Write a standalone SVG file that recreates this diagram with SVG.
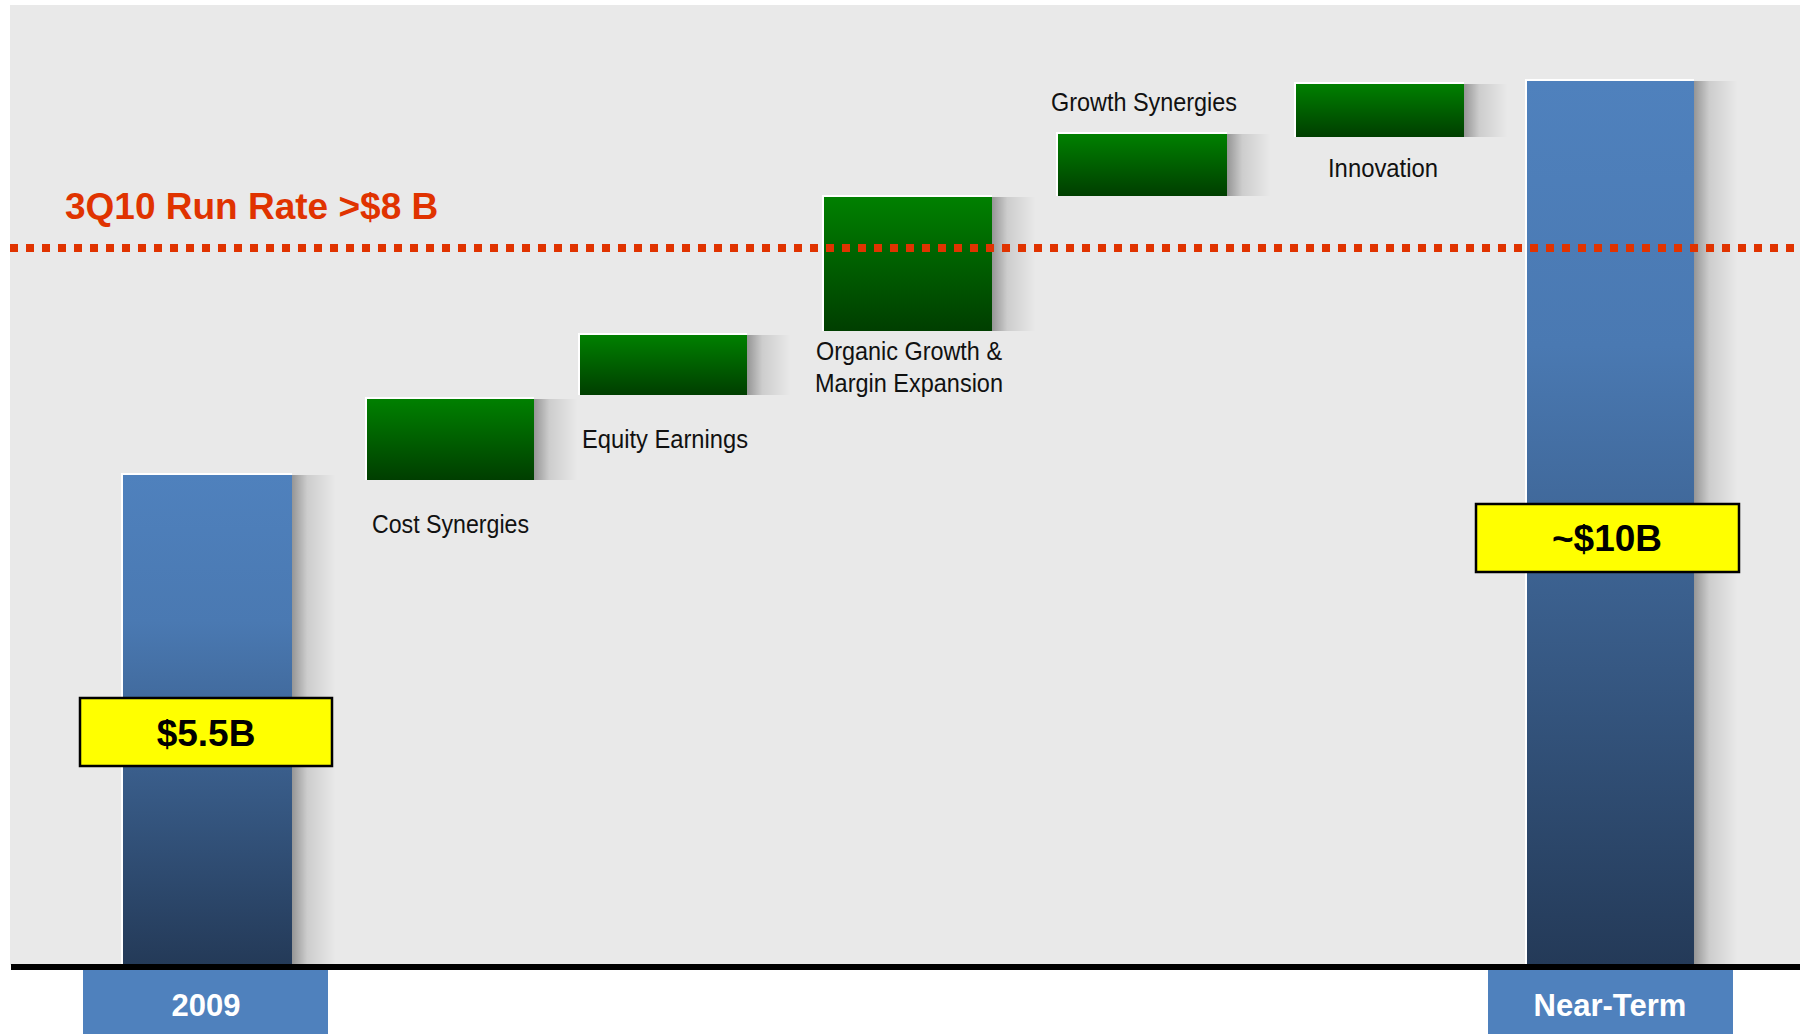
<svg xmlns="http://www.w3.org/2000/svg" width="1803" height="1034" viewBox="0 0 1803 1034">
<defs>
<linearGradient id="blueGrad" x1="0" y1="0" x2="0" y2="1">
<stop offset="0" stop-color="#4f81bd"/>
<stop offset="0.3" stop-color="#4a79b2"/>
<stop offset="1" stop-color="#243a58"/>
</linearGradient>
<linearGradient id="greenGrad" x1="0" y1="0" x2="0" y2="1">
<stop offset="0" stop-color="#008000"/>
<stop offset="1" stop-color="#003e00"/>
</linearGradient>
<linearGradient id="shadowGrad" x1="0" y1="0" x2="1" y2="0">
<stop offset="0" stop-color="#000" stop-opacity="0.36"/>
<stop offset="0.35" stop-color="#000" stop-opacity="0.12"/>
<stop offset="1" stop-color="#000" stop-opacity="0"/>
</linearGradient>
</defs>
<style>
.bg{fill:#e9e9e9}
.edge{fill:#ffffff}
.bar{fill:url(#blueGrad)}
.step{fill:url(#greenGrad)}
.shadow{fill:url(#shadowGrad)}
.lbl{font-family:"Liberation Sans",Arial,sans-serif;font-size:26px;fill:#111}
.val{font-family:"Liberation Sans",Arial,sans-serif;font-size:37px;font-weight:bold;fill:#000;text-anchor:middle}
.cat{font-family:"Liberation Sans",Arial,sans-serif;font-size:31px;font-weight:bold;fill:#fff;text-anchor:middle}
.tag{fill:#ffff00;stroke:#000;stroke-width:2.5}
.catbox{fill:#4f81bd}
.title{font-family:"Liberation Sans",Arial,sans-serif;font-size:37px;font-weight:bold;fill:#e03300}
</style>
<rect class="bg" x="10" y="5" width="1790" height="960"/>

<g id="bar-2009">
<rect class="shadow" x="292" y="475" width="44" height="489"/>
<rect class="edge" x="121" y="473" width="171" height="491"/>
<rect class="bar" x="123" y="475" width="169" height="489"/>
<rect class="tag" x="80" y="698" width="252" height="68"/>
<text class="val" x="206" y="746">$5.5B</text>
</g>

<g id="step-cost-synergies">
<rect class="shadow" x="534" y="399" width="44" height="81"/>
<rect class="edge" x="365" y="397" width="169" height="83"/>
<rect class="step" x="367" y="399" width="167" height="81"/>
<text class="lbl" x="372" y="533" textLength="157" lengthAdjust="spacingAndGlyphs">Cost Synergies</text>
</g>

<g id="step-equity-earnings">
<rect class="shadow" x="747" y="335" width="44" height="60"/>
<rect class="edge" x="578" y="333" width="169" height="62"/>
<rect class="step" x="580" y="335" width="167" height="60"/>
<text class="lbl" x="582" y="448" textLength="166" lengthAdjust="spacingAndGlyphs">Equity Earnings</text>
</g>

<g id="step-organic-growth">
<rect class="shadow" x="992" y="197" width="44" height="134"/>
<rect class="edge" x="822" y="195" width="170" height="136"/>
<rect class="step" x="824" y="197" width="168" height="134"/>
<text class="lbl" x="816" y="360" textLength="186" lengthAdjust="spacingAndGlyphs">Organic Growth &amp;</text>
<text class="lbl" x="815" y="392" textLength="188" lengthAdjust="spacingAndGlyphs">Margin Expansion</text>
</g>

<g id="step-growth-synergies">
<rect class="shadow" x="1227" y="134" width="44" height="62"/>
<rect class="edge" x="1056" y="132" width="171" height="64"/>
<rect class="step" x="1058" y="134" width="169" height="62"/>
<text class="lbl" x="1051" y="111" textLength="186" lengthAdjust="spacingAndGlyphs">Growth Synergies</text>
</g>

<g id="step-innovation">
<rect class="shadow" x="1464" y="84" width="44" height="53"/>
<rect class="edge" x="1294" y="82" width="170" height="55"/>
<rect class="step" x="1296" y="84" width="168" height="53"/>
<text class="lbl" x="1328" y="177" textLength="110" lengthAdjust="spacingAndGlyphs">Innovation</text>
</g>

<g id="bar-near-term">
<rect class="shadow" x="1694" y="81" width="44" height="883"/>
<rect class="edge" x="1525" y="79" width="169" height="885"/>
<rect class="bar" x="1527" y="81" width="167" height="883"/>
</g>

<g id="run-rate-line">
<line x1="10" y1="248" x2="1800" y2="248" stroke="#e03300" stroke-width="8" stroke-dasharray="8 8"/>
<text class="title" x="65" y="219">3Q10 Run Rate &gt;$8 B</text>
</g>

<g id="label-10b">
<rect class="tag" x="1476" y="504" width="263" height="68"/>
<text class="val" x="1607" y="551">~$10B</text>
</g>

<g id="axis">
<rect x="11" y="964" width="1789" height="6" fill="#000"/>
</g>

<g id="cat-2009">
<rect class="catbox" x="83" y="970" width="245" height="64"/>
<text class="cat" x="206" y="1016">2009</text>
</g>

<g id="cat-near-term">
<rect class="catbox" x="1488" y="970" width="245" height="64"/>
<text class="cat" x="1610" y="1016">Near-Term</text>
</g>
</svg>
